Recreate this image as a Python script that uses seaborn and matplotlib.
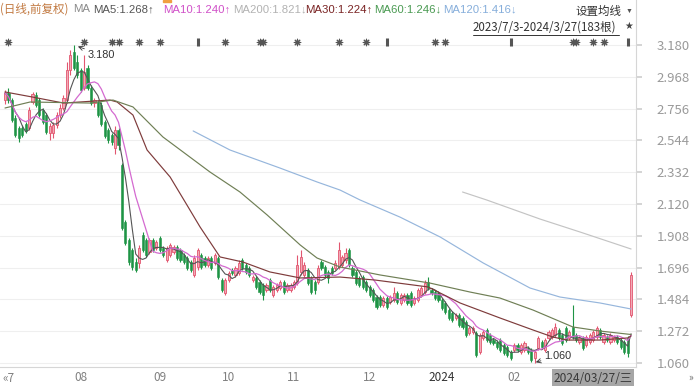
import numpy as np
import pandas as pd
import matplotlib
matplotlib.use('Agg')
import matplotlib.pyplot as plt
import seaborn as sns
from matplotlib.transforms import blended_transform_factory
from matplotlib.lines import Line2D
from matplotlib.patches import Rectangle

# ---------------- data ----------------
opens = [2.813, 2.860, 2.813, 2.693, 2.627, 2.627, 2.653, 2.627, 2.800, 2.847,
         2.813, 2.747, 2.713, 2.593, 2.593, 2.647, 2.713, 2.760, 2.813, 3.013,
         3.133, 3.067, 3.013, 2.893, 3.027, 2.893, 2.793, 2.800, 2.780, 2.667,
         2.613, 2.580, 2.493, 2.613, 2.380, 2.000, 1.880, 1.813, 1.733, 1.727,
         1.913, 1.880, 1.800, 1.880, 1.827, 1.893, 1.827, 1.747, 1.780, 1.800,
         1.833, 1.813, 1.780, 1.760, 1.733, 1.647, 1.700, 1.780, 1.760, 1.713,
         1.760, 1.727, 1.760, 1.613, 1.527, 1.613, 1.680, 1.647, 1.660, 1.747,
         1.713, 1.693, 1.613, 1.627, 1.600, 1.580, 1.547, 1.613, 1.513, 1.547,
         1.560, 1.600, 1.547, 1.547, 1.567, 1.593, 1.667, 1.647, 1.680, 1.627,
         1.600, 1.600, 1.733, 1.700, 1.667, 1.693, 1.693, 1.700, 1.713, 1.747,
         1.813, 1.693, 1.667, 1.627, 1.633, 1.600, 1.567, 1.547, 1.500, 1.500,
         1.447, 1.493, 1.467, 1.480, 1.527, 1.460, 1.480, 1.513, 1.527, 1.460,
         1.480, 1.513, 1.533, 1.600, 1.547, 1.533, 1.527, 1.480, 1.460, 1.413,
         1.393, 1.360, 1.380, 1.360, 1.333, 1.260, 1.267, 1.260, 1.133, 1.227,
         1.280, 1.247, 1.213, 1.200, 1.213, 1.180, 1.167, 1.133, 1.147, 1.180,
         1.133, 1.147, 1.160, 1.147, 1.093, 1.160, 1.200, 1.147, 1.227, 1.233,
         1.247, 1.280, 1.247, 1.293, 1.227, 1.300, 1.247, 1.200, 1.227, 1.180,
         1.200, 1.213, 1.233, 1.280, 1.200, 1.233, 1.200, 1.213, 1.233, 1.213,
         1.200, 1.227, 1.380]
highs = [2.880, 2.893, 2.827, 2.713, 2.640, 2.647, 2.667, 2.767, 2.867, 2.867,
         2.827, 2.760, 2.727, 2.660, 2.667, 2.733, 2.787, 2.847, 3.067, 3.147,
         3.180, 3.113, 3.027, 3.113, 3.047, 2.913, 2.827, 2.813, 2.800, 2.680,
         2.627, 2.593, 2.640, 2.627, 2.393, 2.013, 1.893, 1.827, 1.760, 1.847,
         1.933, 1.893, 1.893, 1.893, 1.880, 1.907, 1.840, 1.840, 1.860, 1.847,
         1.847, 1.827, 1.793, 1.773, 1.747, 1.780, 1.827, 1.793, 1.773, 1.773,
         1.773, 1.793, 1.773, 1.627, 1.627, 1.673, 1.693, 1.707, 1.747, 1.760,
         1.727, 1.707, 1.647, 1.640, 1.613, 1.593, 1.593, 1.627, 1.580, 1.593,
         1.613, 1.613, 1.593, 1.593, 1.613, 1.780, 1.813, 1.733, 1.693, 1.640,
         1.613, 1.713, 1.747, 1.713, 1.680, 1.707, 1.747, 1.867, 1.780, 1.827,
         1.827, 1.707, 1.680, 1.640, 1.647, 1.613, 1.580, 1.560, 1.513, 1.513,
         1.507, 1.507, 1.513, 1.567, 1.540, 1.527, 1.527, 1.527, 1.540, 1.507,
         1.560, 1.573, 1.613, 1.633, 1.560, 1.547, 1.540, 1.493, 1.473, 1.427,
         1.407, 1.393, 1.393, 1.373, 1.347, 1.307, 1.307, 1.273, 1.260, 1.280,
         1.293, 1.260, 1.227, 1.213, 1.227, 1.193, 1.180, 1.147, 1.193, 1.193,
         1.193, 1.207, 1.173, 1.160, 1.147, 1.240, 1.213, 1.227, 1.280, 1.293,
         1.327, 1.293, 1.260, 1.307, 1.280, 1.447, 1.260, 1.240, 1.240, 1.247,
         1.260, 1.280, 1.307, 1.293, 1.260, 1.247, 1.260, 1.247, 1.247, 1.227,
         1.213, 1.240, 1.667]
lows = [2.787, 2.793, 2.667, 2.567, 2.533, 2.567, 2.593, 2.613, 2.787, 2.767,
        2.700, 2.653, 2.587, 2.547, 2.560, 2.627, 2.693, 2.747, 2.793, 2.980,
        3.013, 2.960, 2.867, 2.880, 2.880, 2.780, 2.767, 2.700, 2.640, 2.560,
        2.527, 2.513, 2.453, 2.480, 1.947, 1.847, 1.713, 1.680, 1.667, 1.693,
        1.800, 1.767, 1.787, 1.800, 1.813, 1.800, 1.767, 1.733, 1.767, 1.787,
        1.747, 1.733, 1.720, 1.680, 1.667, 1.633, 1.680, 1.687, 1.700, 1.700,
        1.680, 1.713, 1.620, 1.533, 1.513, 1.600, 1.647, 1.633, 1.647, 1.680,
        1.653, 1.633, 1.600, 1.553, 1.520, 1.480, 1.533, 1.533, 1.500, 1.533,
        1.547, 1.520, 1.533, 1.533, 1.553, 1.580, 1.647, 1.633, 1.580, 1.520,
        1.520, 1.587, 1.680, 1.633, 1.593, 1.647, 1.680, 1.687, 1.700, 1.727,
        1.700, 1.633, 1.580, 1.567, 1.553, 1.533, 1.500, 1.467, 1.420, 1.433,
        1.433, 1.420, 1.453, 1.467, 1.453, 1.447, 1.467, 1.447, 1.433, 1.447,
        1.467, 1.500, 1.520, 1.547, 1.513, 1.480, 1.467, 1.413, 1.387, 1.347,
        1.333, 1.347, 1.300, 1.287, 1.233, 1.247, 1.253, 1.100, 1.120, 1.213,
        1.200, 1.187, 1.180, 1.153, 1.133, 1.113, 1.100, 1.080, 1.133, 1.133,
        1.120, 1.133, 1.120, 1.067, 1.060, 1.147, 1.153, 1.133, 1.213, 1.220,
        1.233, 1.213, 1.180, 1.200, 1.213, 1.220, 1.200, 1.187, 1.147, 1.167,
        1.187, 1.200, 1.220, 1.220, 1.187, 1.200, 1.187, 1.200, 1.187, 1.153,
        1.120, 1.100, 1.367]
closes = [2.860, 2.813, 2.680, 2.580, 2.560, 2.580, 2.607, 2.747, 2.853, 2.780,
          2.713, 2.667, 2.600, 2.640, 2.647, 2.713, 2.760, 2.827, 3.013, 3.113,
          3.027, 2.980, 2.880, 3.000, 2.893, 2.793, 2.813, 2.713, 2.653, 2.573,
          2.547, 2.533, 2.613, 2.513, 1.960, 1.860, 1.733, 1.700, 1.680, 1.827,
          1.813, 1.780, 1.880, 1.813, 1.867, 1.813, 1.780, 1.827, 1.847, 1.833,
          1.760, 1.747, 1.733, 1.693, 1.680, 1.760, 1.813, 1.700, 1.713, 1.760,
          1.693, 1.780, 1.633, 1.547, 1.613, 1.660, 1.660, 1.693, 1.727, 1.693,
          1.667, 1.647, 1.633, 1.567, 1.533, 1.513, 1.580, 1.547, 1.567, 1.580,
          1.600, 1.533, 1.580, 1.580, 1.600, 1.713, 1.767, 1.713, 1.593, 1.533,
          1.547, 1.693, 1.693, 1.647, 1.627, 1.660, 1.727, 1.813, 1.767, 1.793,
          1.713, 1.647, 1.593, 1.580, 1.567, 1.547, 1.513, 1.480, 1.433, 1.447,
          1.493, 1.433, 1.500, 1.527, 1.467, 1.513, 1.513, 1.460, 1.447, 1.493,
          1.547, 1.560, 1.593, 1.560, 1.527, 1.493, 1.480, 1.427, 1.400, 1.360,
          1.347, 1.380, 1.313, 1.300, 1.247, 1.293, 1.293, 1.113, 1.247, 1.267,
          1.213, 1.200, 1.193, 1.167, 1.147, 1.127, 1.113, 1.093, 1.180, 1.147,
          1.180, 1.193, 1.133, 1.080, 1.133, 1.227, 1.167, 1.213, 1.267, 1.280,
          1.300, 1.227, 1.193, 1.213, 1.267, 1.233, 1.213, 1.227, 1.160, 1.233,
          1.247, 1.267, 1.293, 1.233, 1.247, 1.213, 1.247, 1.233, 1.200, 1.167,
          1.133, 1.127, 1.647]

# moving-average lines (bar index, price)
ma30_idx = [0, 8, 17, 30.5, 32.6, 37.2, 41.3, 48, 52.9, 56.7, 62.5, 69.2, 77,
            85.8, 97.4, 107.6, 123, 132.3, 143.9, 153.5, 159.3, 163.4, 173, 181, 182]
ma30_val = [2.867, 2.833, 2.793, 2.813, 2.800, 2.713, 2.480, 2.300, 2.113, 1.967,
            1.767, 1.733, 1.667, 1.627, 1.633, 1.613, 1.567, 1.460, 1.360, 1.280,
            1.233, 1.213, 1.213, 1.227, 1.240]
ma60_idx = [0, 7.3, 24.7, 31.4, 37.2, 45.9, 59.6, 68.3, 76.2, 85.8, 90.7, 97.4,
            109, 123.5, 135.2, 143.9, 153.5, 165.1, 173, 182]
ma60_val = [2.760, 2.800, 2.793, 2.813, 2.767, 2.567, 2.333, 2.200, 2.047, 1.847,
            1.760, 1.700, 1.647, 1.593, 1.533, 1.493, 1.413, 1.300, 1.273, 1.250]
ma120_idx = [54.7, 65.4, 79.9, 90.7, 97.4, 103.2, 114.8, 126.5, 139, 143.9,
             152.6, 161.3, 173, 182]
ma120_val = [2.607, 2.480, 2.360, 2.267, 2.213, 2.147, 2.033, 1.900, 1.727, 1.667,
             1.560, 1.500, 1.460, 1.420]
ma200_idx = [133, 140, 155.5, 167.2, 182]
ma200_val = [2.200, 2.147, 2.020, 1.933, 1.820]

month_idx = [22, 45, 65, 84, 106, 127, 148]
month_labels = ['08', '09', '10', '11', '12', '2024', '02']
ytick_vals = [3.180, 2.968, 2.756, 2.544, 2.332, 2.120, 1.908, 1.696, 1.484, 1.272, 1.060]
event_star_idx = [1, 23, 31, 33, 39, 45, 64, 74, 75, 85, 97, 105, 125, 128, 165, 166, 171, 174]
event_bar_idx = [56, 111, 147, 181]
header_items = ['(日线,前复权)', 'MA', 'MA5:1.268↑', 'MA10:1.240↑', 'MA200:1.821↓',
                'MA30:1.224↑', 'MA60:1.246↓', 'MA120:1.416↓']
high_idx, high_val = 20, 3.180
low_idx, low_val = 154, 1.060

# ---------------- drawing ----------------
sns.set_theme(style='white')
plt.rcParams['font.family'] = ['Noto Sans CJK SC', 'DejaVu Sans']
LATIN = ['Liberation Sans', 'DejaVu Sans']

W, H = 700, 387
fig = plt.figure(figsize=(W / 100, H / 100), dpi=100)
fig.patch.set_facecolor('white')
ax = fig.add_axes([0, (H - 367) / H, 636 / W, 367 / H])
ax.set_facecolor('white')

n = len(closes)
df = pd.DataFrame({'x': np.arange(n), 'open': opens, 'high': highs,
                   'low': lows, 'close': closes})
df['ma5'] = df['close'].rolling(5, min_periods=1).mean()
df['ma10'] = df['close'].rolling(10, min_periods=1).mean()

ax.set_xlim(-1.453, 183.43)
ax.set_ylim(3.48 - 367 / 150, 3.48)

# grid
for v in ytick_vals:
    ax.axhline(v, color='#efefef', lw=0.8, zorder=0)

up = df['close'] >= df['open']
RED_EDGE, RED_FACE, GREEN = '#e2566f', '#f2a9b6', '#1e9445'
wick_cols = np.where(up, RED_EDGE, GREEN)
ax.vlines(df['x'], df['low'], df['high'], colors=wick_cols, lw=0.8, zorder=2)
body_bottom = np.minimum(df['open'], df['close'])
body_h = np.maximum(np.abs(df['close'] - df['open']), 0.004)
ax.bar(df['x'][up], body_h[up], bottom=body_bottom[up], width=0.62,
       color=RED_FACE, edgecolor=RED_EDGE, linewidth=0.6, zorder=3)
ax.bar(df['x'][~up], body_h[~up], bottom=body_bottom[~up], width=0.62,
       color=GREEN, edgecolor=GREEN, linewidth=0.4, zorder=3)

# MA lines
sns.lineplot(x=df['x'], y=df['ma5'], ax=ax, color='#555555', lw=0.8, zorder=4)
sns.lineplot(x=df['x'], y=df['ma10'], ax=ax, color='#d46ad0', lw=0.9, zorder=4)
sns.lineplot(x=ma30_idx, y=ma30_val, ax=ax, color='#7e3b3b', lw=0.85, zorder=4,
             estimator=None, sort=False)
sns.lineplot(x=ma60_idx, y=ma60_val, ax=ax, color='#6f7f55', lw=0.85, zorder=4,
             estimator=None, sort=False)
sns.lineplot(x=ma120_idx, y=ma120_val, ax=ax, color='#96b6dc', lw=0.85, zorder=4,
             estimator=None, sort=False)
sns.lineplot(x=ma200_idx, y=ma200_val, ax=ax, color='#c4c4c4', lw=0.85, zorder=4,
             estimator=None, sort=False)

# event markers row
trans = blended_transform_factory(ax.transData, ax.transAxes)
ymark = (367 - 42) / 367
ax.scatter(event_star_idx, [ymark] * len(event_star_idx), transform=trans,
           marker=(8, 2, 0), s=22, color='#555555', linewidths=0.8, zorder=5)
ax.scatter(event_bar_idx, [ymark] * len(event_bar_idx), transform=trans,
           marker='|', s=30, color='#555555', linewidths=2.2, zorder=5)

# extreme annotations
ax.annotate(f'{high_val:.3f}', xy=(high_idx + 1.2, high_val - 0.01),
            xytext=(7, -6), textcoords='offset points', fontsize=7.8,
            color='#333333', va='center', ha='left', family=LATIN,
            arrowprops=dict(arrowstyle='->', color='#333333', lw=0.6,
                            shrinkA=0, shrinkB=0))
ax.annotate(f'{low_val:.3f}', xy=(low_idx + 0.3, low_val + 0.005),
            xytext=(6, 4.5), textcoords='offset points', fontsize=7.8,
            color='#333333', va='center', ha='left', family=LATIN,
            arrowprops=dict(arrowstyle='->', color='#333333', lw=0.6,
                            shrinkA=0, shrinkB=0))

# axes styling
for s in ['left', 'top']:
    ax.spines[s].set_visible(False)
ax.spines['right'].set_color('#d6d6d6')
ax.spines['bottom'].set_color('#d6d6d6')
ax.spines['right'].set_linewidth(0.8)
ax.spines['bottom'].set_linewidth(0.8)
ax.yaxis.tick_right()
ax.set_yticks(ytick_vals)
ax.set_yticklabels([f'{v:.3f}' for v in ytick_vals])
ax.tick_params(axis='y', length=4, color='#cfcfcf', labelcolor='#9a9a9a',
               labelsize=9.5, pad=11, right=True, left=False)
ax.set_xticks(month_idx)
ax.set_xticklabels(month_labels)
ax.tick_params(axis='x', length=0, labelcolor='#808080', labelsize=8.5, pad=3)
for lab in ax.get_xticklabels():
    if lab.get_text() == '2024':
        lab.set_color('#333333')
ax.set_xlabel('')
ax.set_ylabel('')

# ---------------- header / chrome ----------------
def ftext(px, py, s, **kw):
    fig.text(px / W, 1 - py / H, s, va='center', **kw)

header_x = [0, 73, 93, 163, 233, 305, 374, 443]
header_c = ['#c27a42', '#8a8a8a', '#555555', '#d050c8', '#b2b2b2',
            '#7a2424', '#4a9a52', '#86aedb']
for i, (s, px, c) in enumerate(zip(header_items, header_x, header_c)):
    if i == 0:
        ftext(px, 9, s, color=c, fontsize=8.3)
    else:
        ftext(px, 9, s, color=c, fontsize=8.2, family=LATIN)
ftext(575, 11, '设置均线', color='#333333', fontsize=8.3)
ftext(626, 11, '▼', color='#555555', fontsize=5, family=LATIN)
ftext(473, 27, '2023/7/3-2024/3/27(183根)', color='#333333', fontsize=8.3)
fig.add_artist(Line2D([473 / W, 619 / W], [1 - 35 / H, 1 - 35 / H],
                      color='#333333', lw=0.7))
ftext(624, 26, '★', color='#444444', fontsize=7, family=LATIN)
fig.add_artist(Rectangle((163 / W, 1 - 2 / H), 8 / W, 2 / H, color='#f0a040'))

# date box and scroll arrows
fig.add_artist(Rectangle((552 / W, 1 - 386 / H), 82 / W, 17 / H,
                         facecolor='#a6a6a6', edgecolor='none'))
ftext(593, 378, '2024/03/27/三', color='#3a3a3a', fontsize=8.6, ha='center')
ftext(2, 378, '«7', color='#808080', fontsize=8.5)
ftext(688, 378, '»', color='#666666', fontsize=7)

fig.savefig('out.png', dpi=100, facecolor='white')
